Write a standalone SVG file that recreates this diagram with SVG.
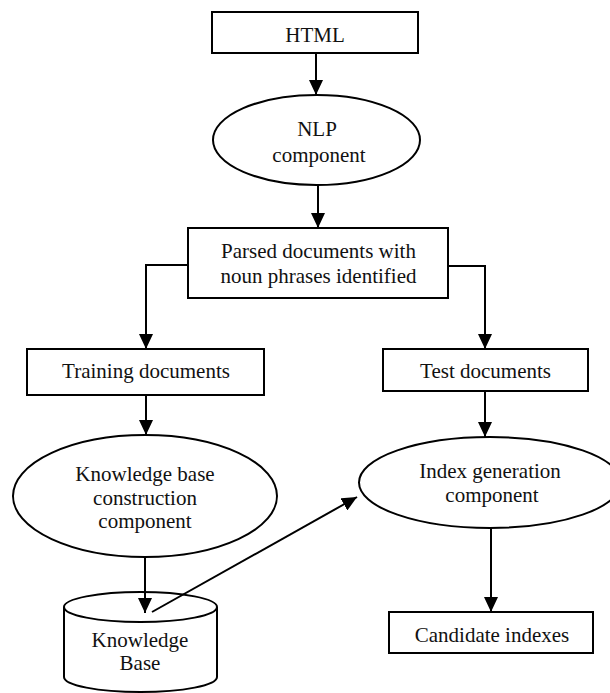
<svg xmlns="http://www.w3.org/2000/svg" width="610" height="693" viewBox="0 0 610 693">
<style>
.shape{fill:#fff;stroke:#000;stroke-width:2}
.lbl{font-family:'Liberation Serif','Times New Roman',serif;font-size:21px;fill:#111;text-anchor:middle}
.conn{fill:none;stroke:#000;stroke-width:2}
</style>
<defs>
<marker id="arr" markerUnits="userSpaceOnUse" markerWidth="15" markerHeight="14" refX="15" refY="7" orient="auto">
<path d="M0,0 L15,7 L0,14 z" fill="#000"/>
</marker>
</defs>
<rect width="610" height="693" fill="#fff"/>
<g id="html">
<rect class="shape" x="212" y="12" width="206" height="41"/>
<text class="lbl" x="315" y="42">HTML</text>
</g>
<g id="nlp">
<ellipse class="shape" cx="316.5" cy="140" rx="103.5" ry="45"/>
<text class="lbl" x="317" y="136">NLP</text>
<text class="lbl" x="319" y="162">component</text>
</g>
<g id="parsed">
<rect class="shape" x="188" y="228" width="260" height="70"/>
<text class="lbl" x="318.5" y="258">Parsed documents with</text>
<text class="lbl" x="318.5" y="283">noun phrases identified</text>
</g>
<g id="training">
<rect class="shape" x="27" y="349" width="237" height="46"/>
<text class="lbl" x="146" y="378">Training documents</text>
</g>
<g id="test">
<rect class="shape" x="383" y="349" width="205" height="42"/>
<text class="lbl" x="485.5" y="378">Test documents</text>
</g>
<g id="kbc">
<ellipse class="shape" cx="145" cy="496" rx="132" ry="61"/>
<text class="lbl" x="145" y="481">Knowledge base</text>
<text class="lbl" x="145" y="505">construction</text>
<text class="lbl" x="145" y="528">component</text>
</g>
<g id="index">
<ellipse class="shape" cx="490" cy="482.5" rx="131" ry="45.5"/>
<text class="lbl" x="490" y="478">Index generation</text>
<text class="lbl" x="492" y="502">component</text>
</g>
<g id="kb">
<path class="shape" d="M64,607 L64,677 A76.5,15 0 0 0 217,677 L217,607"/>
<ellipse class="shape" cx="140.5" cy="607" rx="76.5" ry="15"/>
<text class="lbl" x="140" y="647">Knowledge</text>
<text class="lbl" x="140" y="670">Base</text>
</g>
<g id="candidate">
<rect class="shape" x="389" y="612" width="204" height="41"/>
<text class="lbl" x="492" y="642">Candidate indexes</text>
</g>
<g id="connectors">
<line class="conn" x1="316" y1="53" x2="316" y2="95" marker-end="url(#arr)"/>
<line class="conn" x1="318" y1="185" x2="318" y2="228" marker-end="url(#arr)"/>
<polyline class="conn" points="188,265 146,265 146,349" marker-end="url(#arr)"/>
<polyline class="conn" points="448,266 485,266 485,349" marker-end="url(#arr)"/>
<line class="conn" x1="146" y1="395" x2="146" y2="435" marker-end="url(#arr)"/>
<line class="conn" x1="485" y1="391" x2="485" y2="437" marker-end="url(#arr)"/>
<line class="conn" x1="145" y1="557" x2="145" y2="613" marker-end="url(#arr)"/>
<line class="conn" x1="152" y1="612" x2="357" y2="497" marker-end="url(#arr)"/>
<line class="conn" x1="491" y1="528" x2="491" y2="612" marker-end="url(#arr)"/>
</g>
</svg>
